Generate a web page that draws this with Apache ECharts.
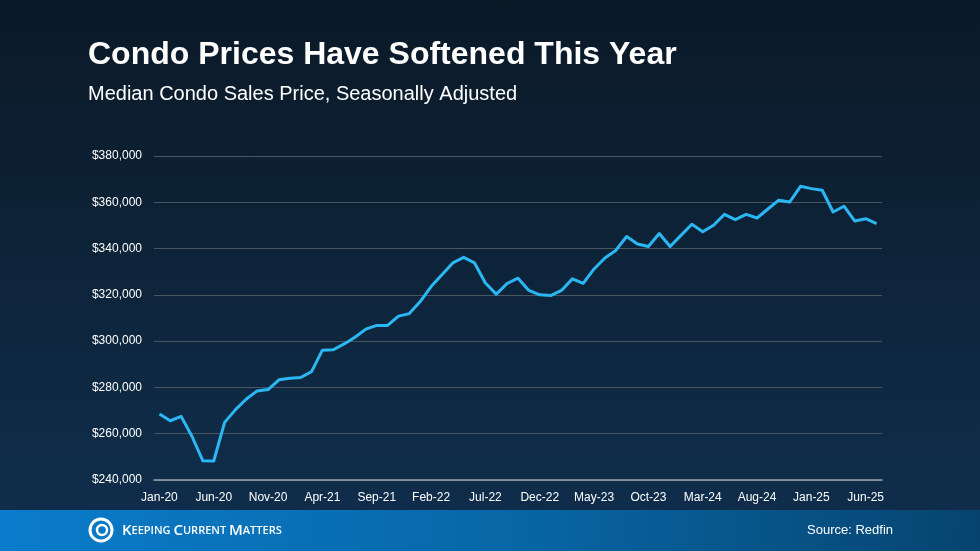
<!DOCTYPE html>
<html>
<head>
<meta charset="utf-8">
<script src="https://cdn.jsdelivr.net/npm/echarts@6/dist/echarts.min.js"></script>
<style>
  html, body { margin: 0; padding: 0; }
  #chart {
    width: 980px; height: 551px;
    background: linear-gradient(180deg, #0b1927 0%, #0d2338 45%, #0f2d4a 90%);
  }
</style>
</head>
<body>
<div id="chart"></div>
<script>
// monthly categories Jan-20 .. Jul-25
var months = ['Jan', 'Feb', 'Mar', 'Apr', 'May', 'Jun', 'Jul', 'Aug', 'Sep', 'Oct', 'Nov', 'Dec'];
var categories = [];
for (var y = 20; y <= 25; y++) {
    for (var m = 0; m < 12; m++) {
        if (y === 25 && m > 6) break;
        categories.push(months[m] + '-' + y);
    }
}

// median condo price
var prices = [
    268500, 265600, 267500, 258800, 248300, 248200, 264900, 270400, 275000, 278500, 279100, 283300,
    284000, 284300, 286800, 296100, 296300, 298800, 301700, 305200, 306800, 306800, 310800, 311900,
    317100, 323600, 328700, 333800, 336200, 333800, 325100, 320300, 324900, 327200, 321900, 320000,
    319700, 321900, 326900, 325000, 331200, 335900, 339200, 345200, 342000, 340900, 346500, 340900,
    345700, 350500, 347300, 350100, 354800, 352500, 354800, 353200, 357100, 360900, 360100, 366900,
    365900, 365200, 355800, 358300, 351900, 352900, 350800
];

var yMin = 240000, yMax = 380000, yStep = 20000;

var chart = echarts.init(document.getElementById('chart'));

var option = {
    backgroundColor: 'transparent',
    animation: false,
    title: {
        text: 'Condo Prices Have Softened This Year',
        subtext: 'Median Condo Sales Price, Seasonally Adjusted',
        left: 83,
        top: 34,
        itemGap: 13,
        textStyle: {
            color: '#ffffff',
            fontFamily: 'Liberation Sans, Arial, sans-serif',
            fontWeight: 'bold',
            fontSize: 32
        },
        subtextStyle: {
            color: '#ffffff',
            fontFamily: 'Liberation Sans, Arial, sans-serif',
            fontSize: 20
        }
    },
    grid: {
        left: 154,
        right: 98,
        top: 156,
        bottom: 71,
        containLabel: false
    },
    xAxis: {
        type: 'category',
        data: categories,
        boundaryGap: true,
        axisLine: { show: true, lineStyle: { color: '#9aa3ad', width: 1.5 } },
        axisTick: { show: false },
        axisLabel: {
            interval: 4,
            color: '#ffffff',
            fontFamily: 'Liberation Sans, Arial, sans-serif',
            fontSize: 12,
            margin: 12
        },
        splitLine: { show: false }
    },
    yAxis: {
        type: 'value',
        min: yMin,
        max: yMax,
        interval: yStep,
        axisLine: { show: false },
        axisTick: { show: false },
        axisLabel: {
            color: '#ffffff',
            fontFamily: 'Liberation Sans, Arial, sans-serif',
            fontSize: 12,
            margin: 12,
            formatter: function (v) {
                return '$' + v.toLocaleString('en-US');
            }
        },
        splitLine: { lineStyle: { color: '#4a5562', width: 1 } }
    },
    series: [{
        type: 'line',
        data: prices,
        symbol: 'none',
        smooth: false,
        lineStyle: { color: '#2bb7f3', width: 3, join: 'round' }
    }],
    graphic: [
        {
            type: 'rect',
            left: 0, top: 510,
            shape: { width: 980, height: 41 },
            style: {
                fill: new echarts.graphic.LinearGradient(0, 0, 1, 0.4, [
                    { offset: 0, color: '#0a7ccb' },
                    { offset: 0.5, color: '#0868a8' },
                    { offset: 1, color: '#06446f' }
                ])
            }
        },
        {
            // logo ring
            type: 'circle',
            shape: { cx: 101, cy: 530, r: 11 },
            style: { fill: 'none', stroke: '#ffffff', lineWidth: 3 }
        },
        {
            type: 'circle',
            shape: { cx: 102, cy: 530, r: 5 },
            style: { fill: 'none', stroke: '#ffffff', lineWidth: 2.5 }
        },
        {
            type: 'text',
            left: 122, top: 523,
            style: {
                text: '{b|K}{s|EEPING }{b|C}{s|URRENT }{b|M}{s|ATTERS}',
                rich: {
                    b: { fill: '#ffffff', fontSize: 15, fontFamily: 'Open Sans, sans-serif', fontWeight: 600 },
                    s: { fill: '#ffffff', fontSize: 11, fontFamily: 'Open Sans, sans-serif', fontWeight: 600 }
                }
            }
        },
        {
            type: 'text',
            right: 87, top: 524,
            style: {
                text: 'Source: Redfin',
                fill: '#ffffff',
                fontSize: 13,
                fontFamily: 'Liberation Sans, Arial, sans-serif'
            }
        }
    ]
};

chart.setOption(option);
</script>
</body>
</html>
